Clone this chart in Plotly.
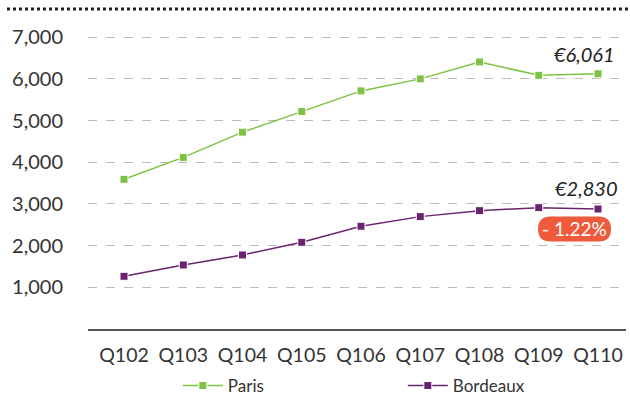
import plotly.graph_objects as go

quarters = ["Q102", "Q103", "Q104", "Q105", "Q106", "Q107", "Q108", "Q109", "Q110"]
paris = [3590, 4115, 4720, 5215, 5710, 5998, 6404, 6084, 6120]
bordeaux = [1264, 1535, 1775, 2080, 2464, 2695, 2838, 2910, 2878]
paris_label = "€6,061"
bordeaux_label = "€2,830"
change_label = "- 1.22%"

GREEN = "#7dc242"
PURPLE = "#6a236f"
FONT = "Lato, sans-serif"

fig = go.Figure()
fig.add_trace(go.Scatter(x=quarters, y=paris, name="Paris", mode="lines+markers",
                         line=dict(color=GREEN, width=1.5),
                         marker=dict(symbol="square", size=8, color=GREEN, line=dict(color="white", width=1))))
fig.add_trace(go.Scatter(x=quarters, y=bordeaux, name="Bordeaux", mode="lines+markers",
                         line=dict(color=PURPLE, width=1.5),
                         marker=dict(symbol="square", size=8, color=PURPLE, line=dict(color="white", width=1))))

fig.update_layout(
    width=630, height=398,
    margin=dict(l=88, r=4, t=9, b=69, autoexpand=False),
    paper_bgcolor="white", plot_bgcolor="white",
    font=dict(family=FONT, size=17, color="#333333"),
    showlegend=True,
    legend=dict(orientation="h", x=0.167, xanchor="left", y=-0.178, yanchor="middle",
                font=dict(size=17, color="#333333"), entrywidth=170, itemwidth=40),
    xaxis=dict(type="category", range=[-0.608, 8.472], showgrid=False,
               showline=True, linecolor="#555555", linewidth=2, ticks="", ticklabelstandoff=8,
               tickfont=dict(size=19.5, color="#333333")),
    yaxis=dict(range=[0, 7674], tickvals=[1000, 2000, 3000, 4000, 5000, 6000, 7000],
               tickformat=",", showgrid=True, gridcolor="#bbbbbb", griddash="dash", gridwidth=1,
               zeroline=False, showline=False, ticks="", ticklabelstandoff=24,
               tickfont=dict(size=20, color="#333333")),
)

# top dotted rule
fig.add_shape(type="line", xref="paper", yref="paper", x0=(7 - 88) / 538, x1=(630 - 88) / 538,
              y0=1, y1=1, line=dict(color="#222222", width=3, dash="dot"))

fig.add_annotation(x=quarters[-1], y=paris[-1], text=paris_label, showarrow=False,
                   xanchor="right", yanchor="bottom", xshift=19, yshift=6,
                   font=dict(family=FONT, size=20, color="#222222", style="italic"))
fig.add_annotation(x=quarters[-1], y=bordeaux[-1], text=bordeaux_label, showarrow=False,
                   xanchor="right", yanchor="bottom", xshift=22, yshift=7,
                   font=dict(family=FONT, size=20, color="#222222", style="italic"))

# pill badge (pixel offsets from last Bordeaux point)
cx, cy = -23.5, -20
w, h = 73, 25
r = h / 2
L, R, T, B = cx - w / 2, cx + w / 2, cy + r, cy - r
path = (f"M {L + r},{B} L {R - r},{B} Q {R},{B} {R},{cy} Q {R},{T} {R - r},{T} "
        f"L {L + r},{T} Q {L},{T} {L},{cy} Q {L},{B} {L + r},{B} Z")
fig.add_shape(type="path", xref="x", yref="y", xsizemode="pixel", ysizemode="pixel",
              xanchor=quarters[-1], yanchor=bordeaux[-1], path=path,
              fillcolor="#f05a3c", line=dict(width=0))
fig.add_annotation(x=quarters[-1], y=bordeaux[-1], text=change_label, showarrow=False,
                   xshift=cx, yshift=cy, font=dict(family=FONT, size=19, color="white"))

fig.write_html("out.html")
